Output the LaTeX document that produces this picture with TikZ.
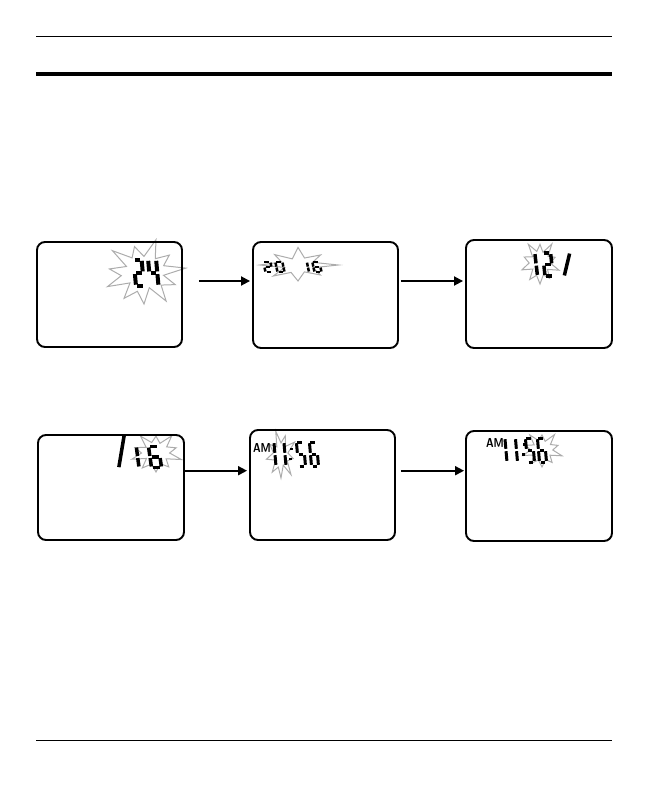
\documentclass[tikz,border=0pt]{standalone}
\usetikzlibrary{arrows.meta}
\tikzset{
  lcdbox/.style={draw, line width=1.9pt, rounded corners=8pt, inner sep=0pt},
  arr/.style={line width=1.8pt, -{Triangle[length=9pt,width=9pt]}},
  burstline/.style={draw=gray!65, line width=1pt, line join=miter},
  ampm/.style={font=\sffamily\bfseries\fontsize{13}{13}\selectfont, inner sep=0pt, xscale=0.8, transform shape},
}
% seven-segment pieces (local unit: width 1, height 2, y up)
\newcommand\lcdA{\draw (0.15,2)--(0.85,2);}
\newcommand\lcdB{\draw (1,1.9)--(1,1.1);}
\newcommand\lcdC{\draw (1,0.9)--(1,0.1);}
\newcommand\lcdD{\draw (0.15,0)--(0.85,0);}
\newcommand\lcdE{\draw (0,0.9)--(0,0.1);}
\newcommand\lcdF{\draw (0,1.9)--(0,1.1);}
\newcommand\lcdG{\draw (0.15,1)--(0.85,1);}
\newcommand\dZero{\lcdA\lcdB\lcdC\lcdD\lcdE\lcdF}
\newcommand\dOne{\lcdB\lcdC}
\newcommand\dTwo{\lcdA\lcdB\lcdG\lcdE\lcdD}
\newcommand\dFour{\lcdF\lcdG\lcdB\lcdC}
\newcommand\dFive{\lcdA\lcdF\lcdG\lcdC\lcdD}
\newcommand\dSix{\lcdA\lcdF\lcdG\lcdE\lcdD\lcdC}
\newcommand\dSlash{\draw (0.05,0.05)--(0.95,1.95);}
% x, bottom y, width, half height, line width, segments
\newcommand\lcd[6]{\begin{scope}[shift={(#1,#2)},xscale=#3,yscale=-#4,xslant=0.15,line width=#5,line cap=butt]#6\end{scope}}
% cx, cy, rx, ry, points, 2*points-1, inner ratio
\newcommand\burst[7]{\draw[burstline] plot[samples at={0,...,#6}, variable=\k]
  ({#1+#3*(1-(1-#7)*mod(\k,2))*(1+0.12*sin(\k*97))*cos(\k*180/#5+90)},
   {#2+#4*(1-(1-#7)*mod(\k,2))*(1+0.12*sin(\k*97))*sin(\k*180/#5+90)}) -- cycle;}
\begin{document}
\begin{tikzpicture}[x=1pt,y=-1pt]
\useasboundingbox (0,0) rectangle (648,792);
% page rules
\draw[line width=0.9pt] (36,36) -- (612,36);
\draw[line width=4pt] (36,73.7) -- (612,73.7);
\draw[line width=0.9pt] (36,740) -- (612,740);

% starbursts
\burst{144}{273}{38}{31}{11}{21}{0.55}
\burst{298}{265}{36}{16}{8}{15}{0.45}
\burst{540}{263}{18}{21}{10}{19}{0.55}
\burst{156}{453}{24}{19}{10}{19}{0.55}
\burst{281}{455}{14}{23}{9}{17}{0.5}
\burst{542}{450}{19}{17}{10}{19}{0.55}

% box 1: 24
\lcd{136}{286}{8}{13.25}{4pt}{\dTwo}
\lcd{150.5}{286}{8}{13.25}{4pt}{\dFour}
% box 2: 20 16
\lcd{265.5}{272}{7}{4.9}{2.5pt}{\dTwo}
\lcd{277.5}{272}{7}{4.9}{2.5pt}{\dZero}
\lcd{302}{272}{7}{4.9}{2.5pt}{\dOne}
\lcd{314.5}{272}{7}{4.9}{2.5pt}{\dSix}
% box 3: 12/
\lcd{528.5}{276}{9}{11.5}{3.5pt}{\dOne}
\lcd{545}{276}{8}{11.5}{3.5pt}{\dTwo}
\lcd{564}{276}{8.5}{11.5}{3.5pt}{\dSlash}
% box 4: /16
\lcd{118.5}{468}{8.5}{16.5}{3.5pt}{\dSlash}
\lcd{130}{467.5}{9}{10.5}{3.5pt}{\dOne}
\lcd{151.5}{467.5}{10}{10.5}{3.5pt}{\dSix}
% box 5: AM 11:56
\node[ampm] (am1) at (262,447.5) {AM};
\lcd{269}{466}{7}{12}{3pt}{\dOne}
\lcd{279}{466}{7}{12}{3pt}{\dOne}
\fill (290,447.5) rectangle (292.5,450);
\fill (289.3,457.5) rectangle (291.8,460);
\lcd{298.5}{466}{7}{12}{3pt}{\dFive}
\lcd{311.5}{466}{7}{12}{3pt}{\dSix}
% box 6: AM 11:56
\node[ampm] (am2) at (495,442.5) {AM};
\lcd{500}{462}{7}{12}{3pt}{\dOne}
\lcd{510.5}{462}{7}{12}{3pt}{\dOne}
\fill (523,443) rectangle (525.5,445.5);
\fill (522.3,453) rectangle (524.8,455.5);
\lcd{527.5}{462}{7}{12}{3pt}{\dFive}
\lcd{539.5}{462}{7}{12}{3pt}{\dSix}

% display frames
\node[lcdbox, minimum width=145pt, minimum height=105pt] (b1) at (109.5,294.5) {};
\node[lcdbox, minimum width=145pt, minimum height=106pt] (b2) at (325.5,295) {};
\node[lcdbox, minimum width=146pt, minimum height=108pt] (b3) at (539,294) {};
\node[lcdbox, minimum width=146pt, minimum height=105pt] (b4) at (111,487.5) {};
\node[lcdbox, minimum width=145pt, minimum height=110pt] (b5) at (322.5,485) {};
\node[lcdbox, minimum width=146pt, minimum height=110pt] (b6) at (539,486) {};

% arrows
\draw[arr] ([xshift=16pt,yshift=13.5pt]b1.east) -- ([xshift=-2pt,yshift=14pt]b2.west);
\draw[arr] ([xshift=2pt,yshift=14pt]b2.east) -- ([xshift=-2pt,yshift=13pt]b3.west);
\draw[arr] ([yshift=16.8pt]b4.east) -- ([xshift=-2pt,yshift=14.3pt]b5.west);
\draw[arr] ([xshift=5pt,yshift=14.3pt]b5.east) -- ([xshift=-1pt,yshift=15.3pt]b6.west);
\end{tikzpicture}
\end{document}
